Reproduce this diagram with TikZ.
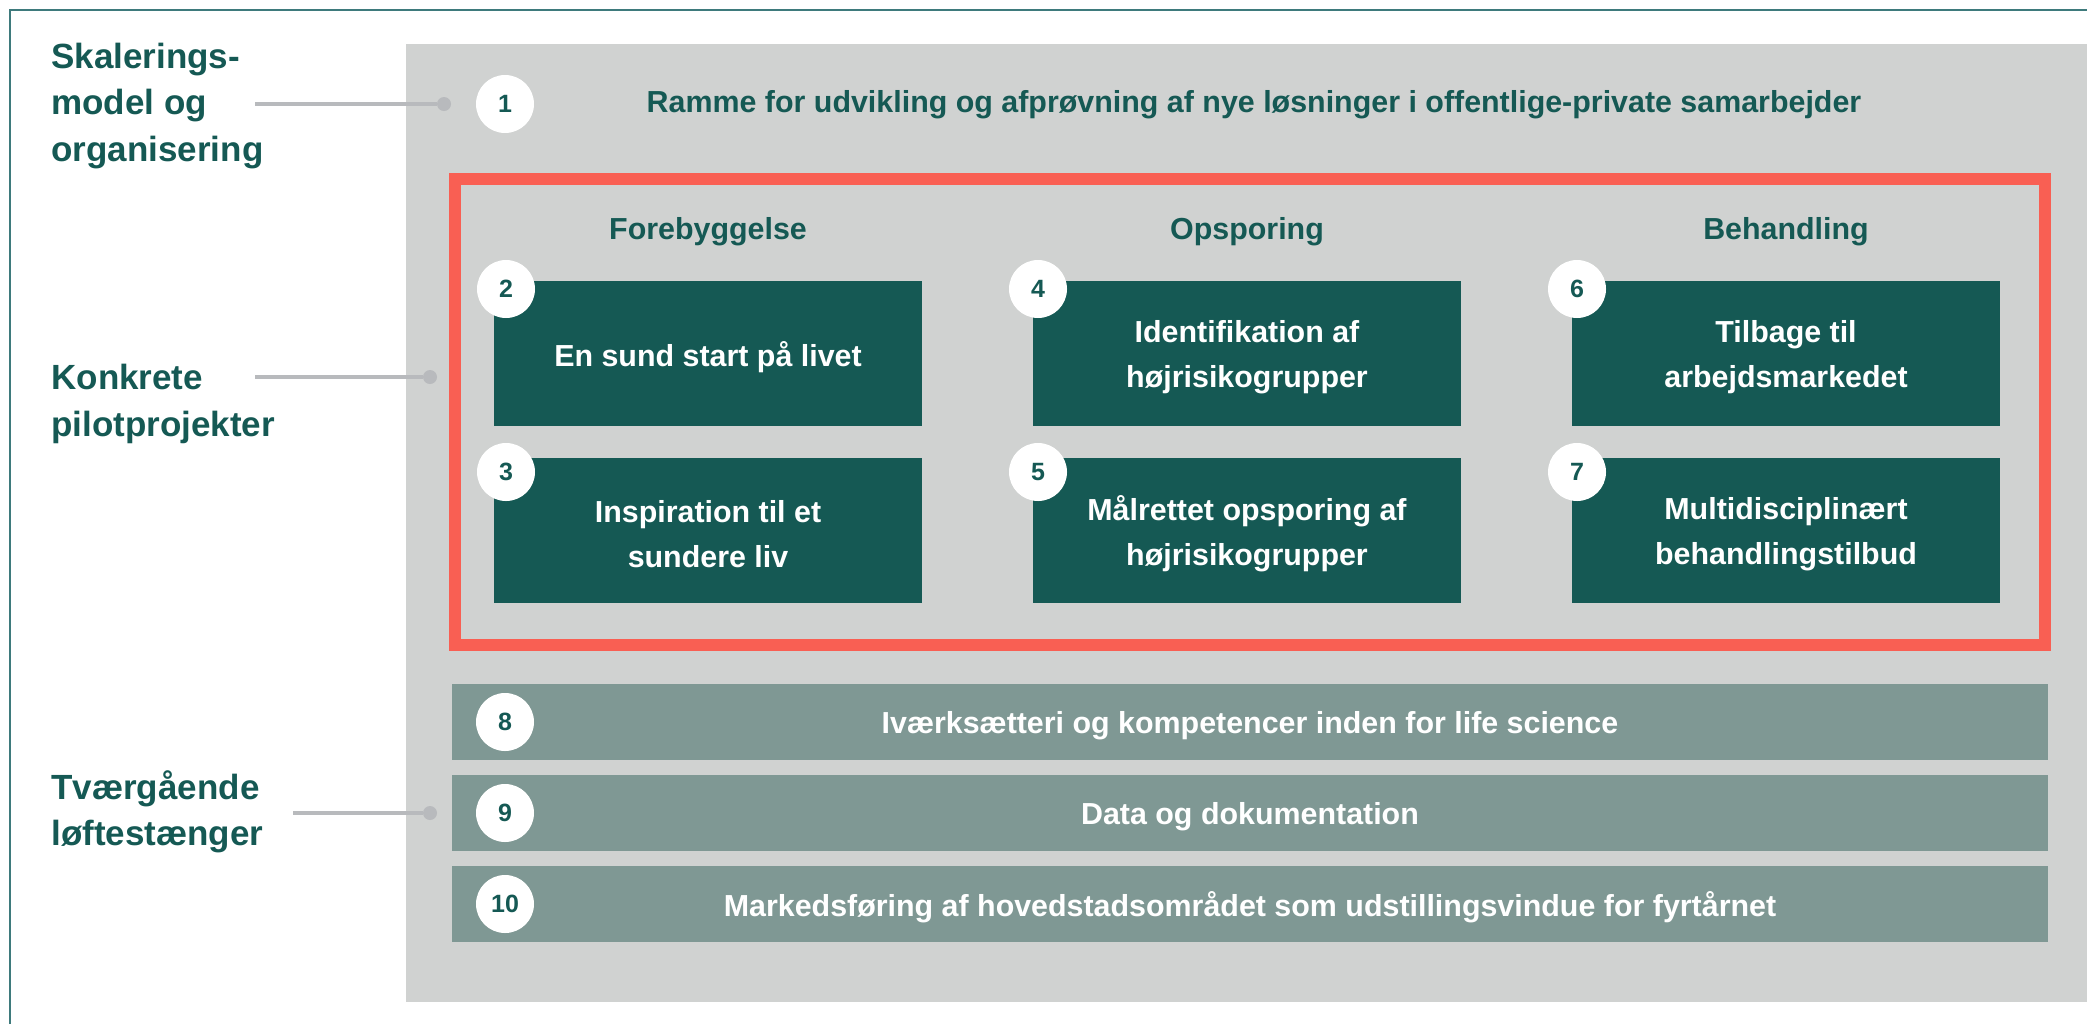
\documentclass[tikz,border=0pt]{standalone}
\usepackage{fontspec}
\setmainfont{Liberation Sans}
\usepackage{tikz}
\usetikzlibrary{calc,positioning}
\definecolor{moerkegroen}{RGB}{21, 89, 84}
\definecolor{lysgraa}{RGB}{208, 210, 209}
\definecolor{graagroen}{RGB}{127, 152, 148}
\definecolor{roed}{RGB}{249, 95, 83}
\definecolor{stregraa}{RGB}{184, 186, 189}
\definecolor{kant}{RGB}{62, 122, 124}
\tikzstyle{nummer}  =[circle, fill=white, minimum size=29pt, inner sep=0pt,
                      text=moerkegroen, font=\bfseries\fontsize{12.5}{12.5}\selectfont]
\tikzstyle{pilot}   =[rectangle, fill=moerkegroen, minimum width=214pt,
                      minimum height=72.5pt, inner sep=0pt]
\tikzstyle{tvaer}   =[rectangle, fill=graagroen, minimum width=798pt,
                      minimum height=38pt, inner sep=0pt]
\tikzstyle{hvidtekst}=[inner sep=0pt, yshift=-1.8pt, text=white, align=center,
                      font=\bfseries\fontsize{15.2}{22.5}\selectfont]
\tikzstyle{kolonne} =[inner sep=0pt, text=moerkegroen,
                      font=\bfseries\fontsize{15.2}{15.2}\selectfont]
\tikzstyle{etiket}  =[anchor=west, inner sep=0pt, text=moerkegroen, align=left,
                      font=\bfseries\fontsize{17.5}{23.2}\selectfont]
\tikzstyle{endepunkt}=[circle, fill=stregraa, minimum size=7pt, inner sep=0pt]
\tikzstyle{conn}    =[draw=stregraa, line width=1.75pt]

\begin{document}
\begin{tikzpicture}[x=0.5pt,y=-0.5pt]
    \useasboundingbox (0,0) rectangle (2087,1024);

        \fill[lysgraa] (406,44) rectangle (2087,1002);
        \draw[kant, line width=1.25pt] (10,1024) -- (10,10) -- (2087,10);

        \begin{scope}[]
            \draw (51,106) node (skal) [etiket] {Skalerings-\\model og\\organisering};
            \draw (51,404) node (konk) [etiket] {Konkrete\\pilotprojekter};
            \draw (51,812) node (tvae) [etiket] {Tværgående\\løftestænger};

            \coordinate (s1) at (255,104);
            \coordinate (s2) at (255,377);
            \coordinate (s3) at (293,813);
            \draw (444,104) node (d1) [endepunkt] {};
            \draw (430,377) node (d2) [endepunkt] {};
            \draw (430,813) node (d3) [endepunkt] {};

            \foreach \i in {1,2,3}
                \draw [conn] (s\i) to (d\i);
        \end{scope}

        \begin{scope}[]
            \draw (505,104) node (c1) [nummer] {1};
            \draw (1254,105) node (t1) [kolonne] {Ramme for udvikling og afprøvning af nye løsninger i offentlige-private samarbejder};
        \end{scope}

        \begin{scope}[]
            \draw[roed, line width=6pt] (455,179) rectangle (2045,645);

            \foreach \i/\x/\txt in {1/708/Forebyggelse,2/1247/Opsporing,3/1786/Behandling}
                \draw (\x,232) node (h\i) [kolonne] {\txt};

            \foreach \i/\x/\y/\txt in {2/708/353.5/{En sund start på livet},
                                       3/708/530.5/{Inspiration til et\\sundere liv},
                                       4/1247/353.5/{Identifikation af\\højrisikogrupper},
                                       5/1247/530.5/{Målrettet opsporing af\\højrisikogrupper},
                                       6/1786/353.5/{Tilbage til\\arbejdsmarkedet},
                                       7/1786/530.5/{Multidisciplinært\\behandlingstilbud}}
                \draw (\x,\y) node (p\i) [pilot, label={[hvidtekst]center:{\txt}}] {};

            \foreach \i/\x/\y in {2/506/289,3/506/472,4/1038/289,5/1038/472,6/1577/289,7/1577/472}
                \draw (\x,\y) node (c\i) [nummer] {\i};
        \end{scope}

        \begin{scope}[]
            \foreach \i/\y/\txt in {8/722/{Iværksætteri og kompetencer inden for life science},
                                    9/813/{Data og dokumentation},
                                    10/904/{Markedsføring af hovedstadsområdet som udstillingsvindue for fyrtårnet}}
            {
                \draw (1250,\y) node (b\i) [tvaer, label={[hvidtekst]center:{\txt}}] {};
                \draw (505,\y) node (c\i) [nummer] {\i};
            }
        \end{scope}

    \end{tikzpicture}
\end{document}
